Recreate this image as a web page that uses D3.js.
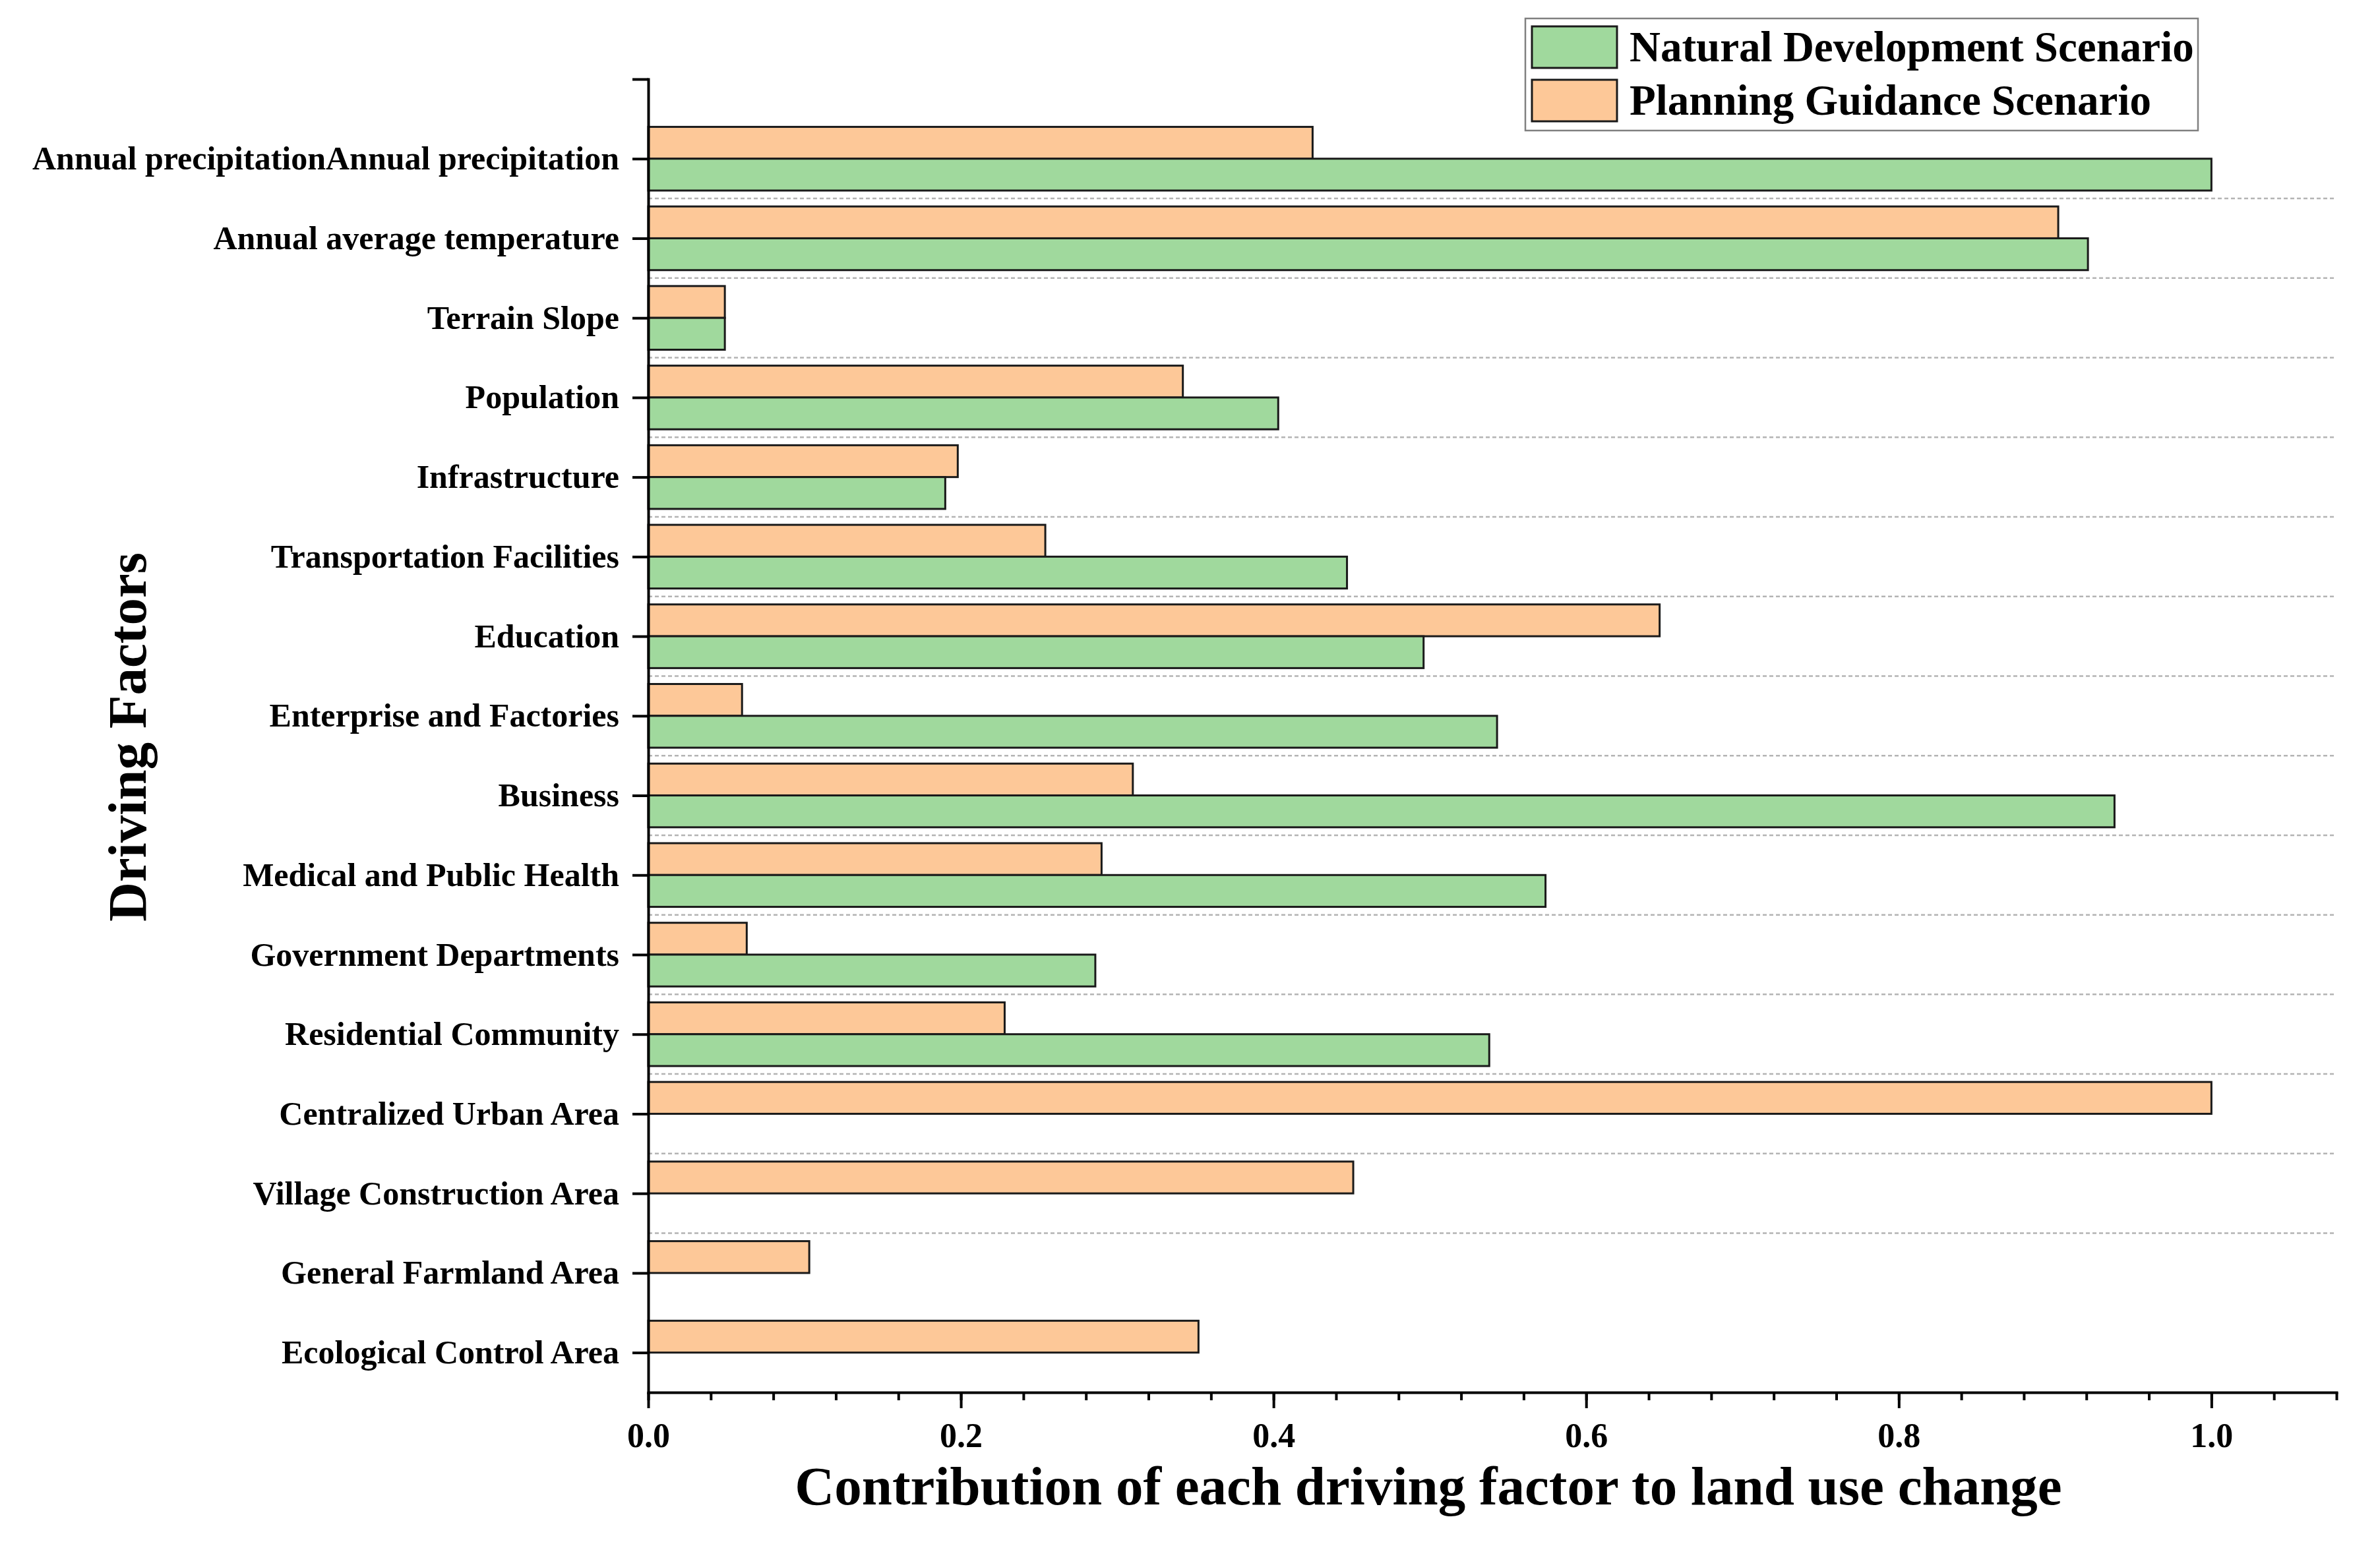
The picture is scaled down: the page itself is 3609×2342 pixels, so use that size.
<!DOCTYPE html>
<html>
<head>
<meta charset="utf-8">
<script src="https://cdn.jsdelivr.net/npm/d3@7"></script>
<style>
  body { margin: 0; background: #fff; }
  text { font-family: "Liberation Serif", "Times New Roman", serif; font-weight: bold; fill: #000; }
</style>
</head>
<body>
<div id="viz"></div>
<script>
const width = 3609;
const height = 2342;

const factors = [
  'Annual precipitationAnnual precipitation',
  'Annual average temperature',
  'Terrain Slope',
  'Population',
  'Infrastructure',
  'Transportation Facilities',
  'Education',
  'Enterprise and Factories',
  'Business',
  'Medical and Public Health',
  'Government Departments',
  'Residential Community',
  'Centralized Urban Area',
  'Village Construction Area',
  'General Farmland Area',
  'Ecological Control Area'
];
const natural = [1.0, 0.921, 0.049, 0.403, 0.190, 0.447, 0.496, 0.543, 0.938, 0.574, 0.286, 0.538, null, null, null, null];
const planning = [0.425, 0.902, 0.049, 0.342, 0.198, 0.254, 0.647, 0.060, 0.310, 0.290, 0.063, 0.228, 1.0, 0.451, 0.103, 0.352];
const seriesNames = ['Natural Development Scenario', 'Planning Guidance Scenario'];
const xTicks = [0, 0.2, 0.4, 0.6, 0.8, 1.0];
const colors = {natural: '#a0d99d', planning: '#fdc898'};

const xScale = d3.scaleLinear()
  .domain([0, 1.08])
  .range([983, 3543]);

// categories sit on integer positions, top end of the axis is one step above the first
const yScale = d3.scaleLinear()
  .domain([-1, factors.length - 0.5])
  .range([120, 2112]);

const step = yScale(1) - yScale(0);
const barH = step * 0.4;

const svg = d3.select('#viz')
  .append('svg')
    .attr('width', width)
    .attr('height', height)
    .attr('viewBox', [0, 0, width, height]);

svg.append('rect')
  .attr('width', width)
  .attr('height', height)
  .attr('fill', '#fff');

// dashed separators between category groups
svg.append('g')
  .selectAll('line')
  .data(d3.range(factors.length - 2))
  .join('line')
    .attr('x1', xScale(0))
    .attr('x2', xScale(1.08))
    .attr('y1', d => yScale(d + 0.5))
    .attr('y2', d => yScale(d + 0.5))
    .attr('stroke', '#b4b4b4')
    .attr('stroke-width', 2.5)
    .attr('stroke-dasharray', '6,4');

// planning bars above the tick, natural below
svg.append('g')
  .selectAll('rect')
  .data(planning.map((v, i) => ({v, i})).filter(d => d.v != null))
  .join('rect')
    .attr('x', xScale(0))
    .attr('y', d => yScale(d.i) - barH)
    .attr('width', d => xScale(d.v) - xScale(0))
    .attr('height', barH)
    .attr('fill', colors.planning)
    .attr('stroke', '#1a1a1a')
    .attr('stroke-width', 3);

svg.append('g')
  .selectAll('rect')
  .data(natural.map((v, i) => ({v, i})).filter(d => d.v != null))
  .join('rect')
    .attr('x', xScale(0))
    .attr('y', d => yScale(d.i))
    .attr('width', d => xScale(d.v) - xScale(0))
    .attr('height', barH)
    .attr('fill', colors.natural)
    .attr('stroke', '#1a1a1a')
    .attr('stroke-width', 3);

// x axis: minor ticks first, then major with labels
const xMinor = svg.append('g')
  .attr('transform', `translate(0, ${yScale(factors.length - 0.5)})`)
  .call(d3.axisBottom(xScale)
    .tickValues(d3.range(0, 28).map(d => +(d * 0.04).toFixed(2)))
    .tickSize(12)
    .tickSizeOuter(0)
    .tickFormat(''));
xMinor.select('.domain').remove();

const xAxis = svg.append('g')
  .attr('transform', `translate(0, ${yScale(factors.length - 0.5)})`)
  .call(d3.axisBottom(xScale)
    .tickValues(xTicks)
    .tickSize(24)
    .tickSizeOuter(0)
    .tickPadding(22)
    .tickFormat(d3.format('.1f')));

xAxis.selectAll('text')
  .attr('font-size', 52);

const yAxis = svg.append('g')
  .attr('transform', `translate(${xScale(0)}, 0)`)
  .call(d3.axisLeft(yScale)
    .tickValues(d3.range(-1, factors.length))
    .tickSize(24)
    .tickSizeOuter(0)
    .tickPadding(20)
    .tickFormat(d => d < 0 ? '' : factors[d]));

yAxis.selectAll('text')
  .attr('font-size', 50)
  .attr('dy', '0.32em');

svg.selectAll('.domain, .tick line')
  .attr('stroke', '#000')
  .attr('stroke-width', 4);

svg.selectAll('.domain')
  .attr('stroke-linecap', 'square');

svg.append('text')
  .attr('x', 2166)
  .attr('y', 2282)
  .attr('text-anchor', 'middle')
  .attr('font-size', 83)
  .text('Contribution of each driving factor to land use change');

svg.append('text')
  .attr('transform', 'translate(221, 1118) rotate(-90)')
  .attr('text-anchor', 'middle')
  .attr('font-size', 83)
  .text('Driving Factors');

// legend
const legend = svg.append('g');

legend.append('rect')
  .attr('x', 2313)
  .attr('y', 28)
  .attr('width', 1020)
  .attr('height', 170)
  .attr('fill', '#fff')
  .attr('stroke', '#808080')
  .attr('stroke-width', 2.5);

const items = legend.selectAll('.item')
  .data([
    {name: seriesNames[0], color: colors.natural},
    {name: seriesNames[1], color: colors.planning}
  ])
  .join('g')
    .attr('class', 'item')
    .attr('transform', (d, i) => `translate(2323, ${40 + i * 81})`);

items.append('rect')
  .attr('width', 129)
  .attr('height', 63)
  .attr('fill', d => d.color)
  .attr('stroke', '#1a1a1a')
  .attr('stroke-width', 3);

items.append('text')
  .attr('x', 148)
  .attr('y', 53)
  .attr('font-size', 65)
  .text(d => d.name);
</script>
</body>
</html>
